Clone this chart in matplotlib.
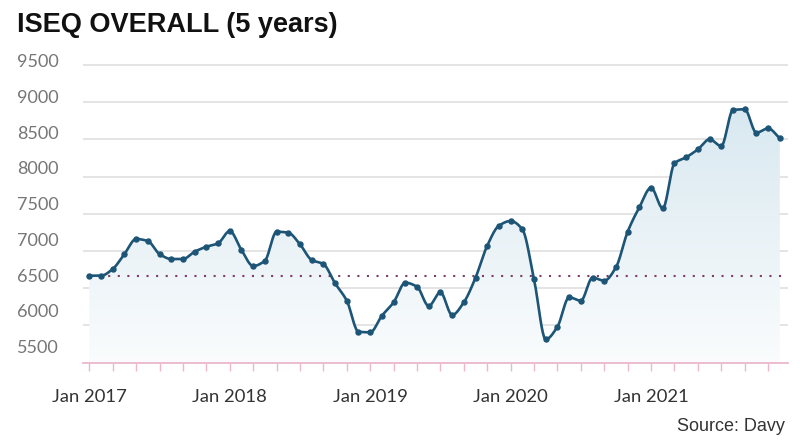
import numpy as np
import matplotlib
matplotlib.use("Agg")
import matplotlib.pyplot as plt
from matplotlib.colors import LinearSegmentedColormap
from matplotlib.patches import Polygon
import matplotlib.transforms as mtransforms

# ---- data (monthly closes, Jan 2017 - Dec 2021) ----
months = np.arange(60)
iseq = [6669, 6669, 6759, 6960, 7162, 7135, 6960, 6893, 6893, 6991, 7058, 7104,
        7269, 7014, 6799, 6870, 7260, 7247, 7091, 6880, 6826, 6567, 6333, 5916,
        5908, 6131, 6311, 6575, 6521, 6262, 6446, 6141, 6311, 6642, 7072, 7341,
        7404, 7292, 6620, 5814, 5984, 6379, 6333, 6642, 6602, 6782, 7260, 7588,
        7851, 7574, 8179, 8260, 8367, 8501, 8411, 8895, 8905, 8590, 8649, 8515]
year_labels = ["Jan 2017", "Jan 2018", "Jan 2019", "Jan 2020", "Jan 2021"]
y_ticks = [5500, 6000, 6500, 7000, 7500, 8000, 8500, 9000, 9500]
title = "ISEQ OVERALL (5 years)"
source = "Source: Davy"

vals = np.array(iseq, dtype=float)
x = months.astype(float)

# monotone cubic (Fritsch-Carlson) for a smooth rendering through the points
def monotone(xs, ys, n=20):
    h = np.diff(xs)
    d = np.diff(ys) / h
    m = np.zeros_like(ys)
    m[0], m[-1] = d[0], d[-1]
    for k in range(1, len(ys) - 1):
        if d[k - 1] * d[k] <= 0:
            m[k] = 0
        else:
            w1 = 2 * h[k] + h[k - 1]
            w2 = h[k] + 2 * h[k - 1]
            m[k] = (w1 + w2) / (w1 / d[k - 1] + w2 / d[k])
    X, Y = [], []
    for k in range(len(xs) - 1):
        t = np.linspace(0, 1, n, endpoint=False)
        h00 = 2 * t**3 - 3 * t**2 + 1
        h10 = t**3 - 2 * t**2 + t
        h01 = -2 * t**3 + 3 * t**2
        h11 = t**3 - t**2
        X.append(xs[k] + t * h[k])
        Y.append(h00 * ys[k] + h10 * h[k] * m[k] + h01 * ys[k + 1] + h11 * h[k] * m[k + 1])
    X.append([xs[-1]]); Y.append([ys[-1]])
    return np.concatenate(X), np.concatenate(Y)

sx, sy = monotone(x, vals)

W, H = 800, 446
fig = plt.figure(figsize=(W / 100, H / 100), dpi=100)
ax_l, ax_r = 83 / W, 788 / W
ax_b, ax_t = 1 - 362.7 / H, 1 - 55 / H
ax = fig.add_axes([ax_l, ax_b, ax_r - ax_l, ax_t - ax_b])

ppu = 0.07443  # pixels per index point
ymin = 5500
ymax = 5500 + (362.7 - 55) / ppu
ax.set_ylim(ymin, ymax)
ax.set_xlim(-0.54, 59.7)

# grid
for v in y_ticks[1:]:
    ax.axhline(v, color="#e2e2e2", lw=1.3, zorder=1)

# gradient fill under the curve
cmap = LinearSegmentedColormap.from_list("g", ["#fafcfd", "#d8e8f0"])
grad = np.linspace(0, 1, 256).reshape(-1, 1)
img = ax.imshow(grad, extent=[-0.54, 59.7, ymin, 9000], origin="lower", aspect="auto",
                cmap=cmap, zorder=2)
poly = Polygon(np.column_stack([np.r_[sx, sx[-1], sx[0]], np.r_[sy, ymin, ymin]]),
               closed=True, facecolor="none", edgecolor="none")
ax.add_patch(poly)
img.set_clip_path(poly)

# reference dotted line at starting level
ax.hlines(vals[0], 0, 59.7, colors="#7d3d66", linestyles=(0, (1, 3.6)), lw=1.5, zorder=3)

# line & points
ax.plot(sx, sy, color="#1d5577", lw=1.9, zorder=4, solid_capstyle="round")
ax.plot(x, vals, "o", color="#1d5577", ms=3.6, zorder=5)

# spines / axis
for s in ["top", "right", "left"]:
    ax.spines[s].set_visible(False)
ax.spines["bottom"].set_color("#eab8cb")
ax.spines["bottom"].set_linewidth(1.3)
ax.set_yticks([])
ax.set_xticks(np.arange(0, 60, 2))
ax.set_xticklabels([])
ax.tick_params(axis="x", direction="out", length=6, width=1, color="#eab8cb")

# year labels
trans_x = mtransforms.blended_transform_factory(ax.transData, fig.transFigure)
for i, lab in enumerate(year_labels):
    ax.text(i * 12, 1 - 396.5 / H, lab, transform=trans_x, ha="center", va="center",
            fontsize=13.3, family="Lato", color="#333333")

# y labels (placed slightly above their gridlines, as in the reference)
trans_y = mtransforms.blended_transform_factory(fig.transFigure, fig.transFigure)
for v in y_ticks:
    py = 348 - (v - 5500) * (286 / 4000)
    ax.text(58.5 / W, 1 - py / H, f"{v}", transform=trans_y, ha="right", va="center",
            fontsize=13, family="Lato", color="#767676")

fig.text(17 / W, 1 - 25.5 / H, title, ha="left", va="center", fontsize=19.5,
         fontweight="bold", family="Liberation Sans", color="#111111")
fig.text(785 / W, 1 - 426.5 / H, source, ha="right", va="center", fontsize=13,
         family="Liberation Sans", color="#333333")

fig.savefig("out.png", dpi=100)
